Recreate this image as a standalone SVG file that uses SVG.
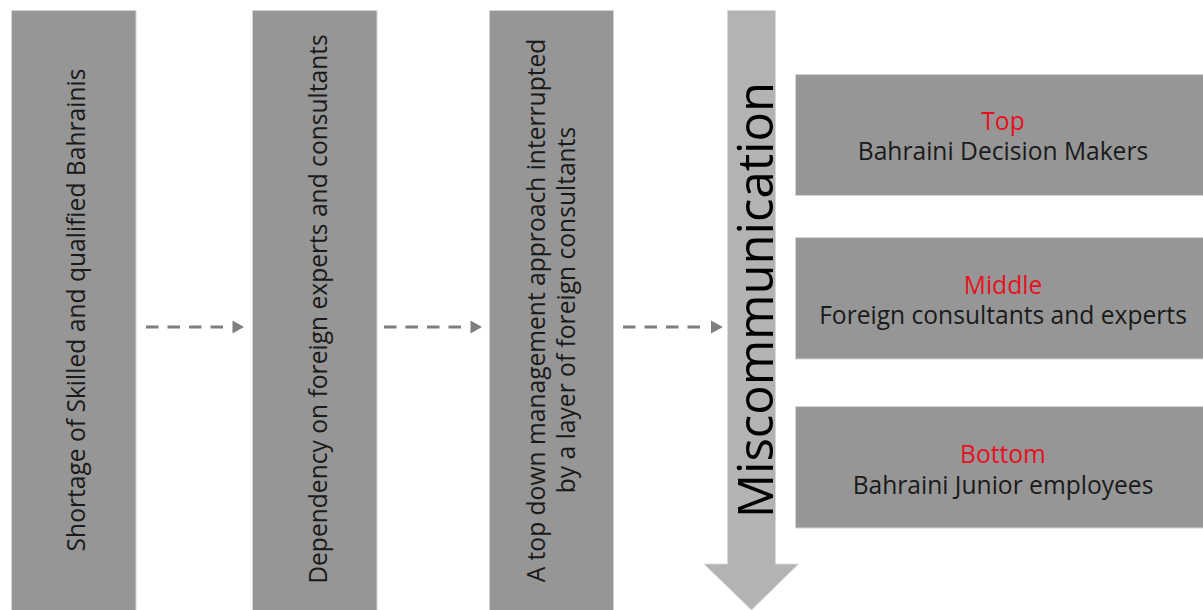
<svg xmlns="http://www.w3.org/2000/svg" width="1203" height="610" viewBox="0 0 1203 610">
<style>
.box{fill:#969696;stroke:#d4d4d4;stroke-width:1}
.vt{font-family:"Open Sans","Noto Sans",sans-serif;font-size:24.6px;fill:#1a1a1a;text-anchor:middle}
.ht{font-family:"Open Sans","Noto Sans",sans-serif;font-size:24.6px;fill:#1a1a1a;text-anchor:middle}
.red{fill:#e8101e}
.dash{stroke:#7f7f7f;stroke-width:3;stroke-dasharray:12.5 9;fill:none}
.head{fill:#7f7f7f}
</style>
<rect width="1203" height="610" fill="#ffffff"/>
<g id="node-shortage">
<rect class="box" x="11.5" y="10.5" width="124.5" height="610"/>
<text class="vt" transform="translate(85,310) rotate(-90)">Shortage of Skilled and qualified Bahrainis</text>
</g>
<g id="node-dependency">
<rect class="box" x="252.5" y="10.5" width="124.5" height="610"/>
<text class="vt" transform="translate(327,309) rotate(-90)">Dependency on foreign experts and consultants</text>
</g>
<g id="node-topdown">
<rect class="box" x="489.5" y="10.5" width="124" height="610"/>
<text class="vt" transform="translate(545,310.5) rotate(-90)">A top down management approach interrupted</text>
<text class="vt" transform="translate(575,310) rotate(-90)">by a layer of foreign consultants</text>
</g>
<g id="node-miscommunication">
<polygon points="727.5,10.5 775.5,10.5 775.5,564 798.5,564 751.5,610 704,564 727.5,564" fill="#b3b3b3" stroke="#d9d9d9" stroke-width="1"/>
<text transform="translate(773,300) rotate(-90)" font-family="'Open Sans','Noto Sans',sans-serif" font-size="49" fill="#000000" text-anchor="middle">Miscommunication</text>
</g>
<g id="node-top">
<rect class="box" x="795.5" y="74.5" width="420" height="121"/>
<text class="ht red" x="1003" y="130">Top</text>
<text class="ht" x="1003" y="160">Bahraini Decision Makers</text>
</g>
<g id="node-middle">
<rect class="box" x="795.5" y="237.5" width="420" height="121.5"/>
<text class="ht red" x="1003" y="294">Middle</text>
<text class="ht" x="1003" y="324">Foreign consultants and experts</text>
</g>
<g id="node-bottom">
<rect class="box" x="795.5" y="406.5" width="420" height="121.5"/>
<text class="ht red" x="1003" y="463">Bottom</text>
<text class="ht" x="1003" y="494">Bahraini Junior employees</text>
</g>
<g id="connectors">
<path class="dash" d="M146,327 H223"/>
<polygon class="head" points="232.5,320.5 244,327 232.5,333.5"/>
<path class="dash" d="M384,327 H461"/>
<polygon class="head" points="470.5,320.5 482,327 470.5,333.5"/>
<path class="dash" d="M623,327 H700"/>
<polygon class="head" points="711,320.5 723,327 711,333.5"/>
</g>
</svg>
